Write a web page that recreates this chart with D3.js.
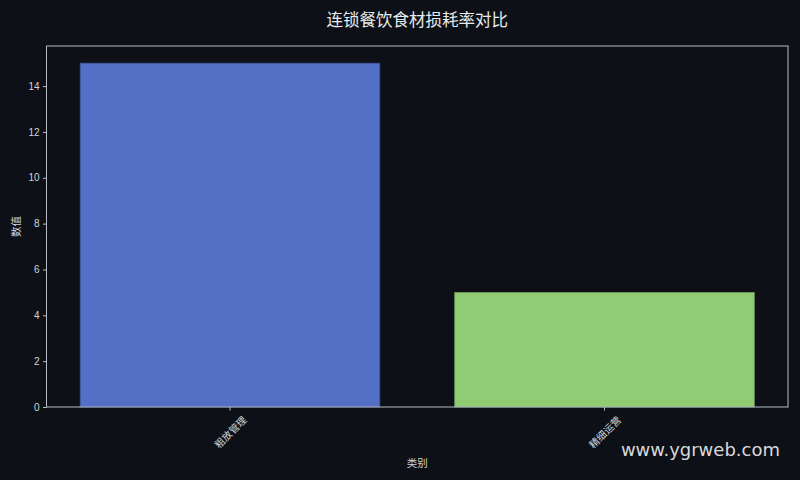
<!DOCTYPE html>
<html>
<head>
<meta charset="utf-8">
<script src="https://cdn.jsdelivr.net/npm/d3@7"></script>
<style>
  html, body { margin: 0; padding: 0; background: #0d1017; }
  svg { display: block; }
</style>
</head>
<body>
<div id="chart"></div>
<script>
// chart data
var categories = ['粗放管理', '精细运营'];
var values = [15, 5];
var barColors = ['#5470c6', '#91cc75'];
var yTicks = [0, 2, 4, 6, 8, 10, 12, 14];

var width = 800, height = 480;
var margin = {top: 46, right: 12, bottom: 73, left: 46.5};
var cjk = '"Noto Sans CJK SC", "Noto Sans", sans-serif';
var num = '"Liberation Sans", Arial, sans-serif';

var svg = d3.select('#chart').append('svg')
    .attr('width', width)
    .attr('height', height);

svg.append('rect')
    .attr('width', width).attr('height', height)
    .attr('fill', '#0d1017');

var x = d3.scaleBand()
    .domain(categories)
    .range([margin.left, width - margin.right])
    .paddingInner(0.2)
    .paddingOuter(0.09);

var y = d3.scaleLinear()
    .domain([0, 15.75])
    .range([height - margin.bottom, margin.top]);

// bars
svg.append('g').attr('class', 'data')
    .selectAll('rect')
    .data(values)
    .enter()
    .append('rect')
    .attr('x', function(d, i) { return x(categories[i]); })
    .attr('y', function(d) { return y(d); })
    .attr('width', x.bandwidth())
    .attr('height', function(d) { return y(0) - y(d); })
    .attr('fill', function(d, i) { return barColors[i]; })
    .attr('stroke', function(d, i) { return d3.color(barColors[i]).darker(0.8); })
    .attr('stroke-width', 0.8);

// frame
svg.append('rect')
    .attr('x', margin.left)
    .attr('y', margin.top)
    .attr('width', width - margin.right - margin.left)
    .attr('height', height - margin.bottom - margin.top)
    .attr('fill', 'none')
    .attr('stroke', '#b8bcc4')
    .attr('stroke-width', 1);

// y axis
var yAxis = d3.axisLeft(y).tickValues(yTicks).tickSize(3.5).tickPadding(3.5);
var gy = svg.append('g')
    .attr('transform', 'translate(' + margin.left + ',0)')
    .call(yAxis);
gy.select('.domain').remove();
gy.selectAll('.tick line').attr('stroke', '#b8bcc4');
gy.selectAll('.tick text')
    .attr('fill', '#d0d4da')
    .style('font-family', num)
    .style('font-size', '10px');

// x axis
var xAxis = d3.axisBottom(x).tickSize(3.5).tickPadding(0);
var gx = svg.append('g')
    .attr('transform', 'translate(0,' + (height - margin.bottom) + ')')
    .call(xAxis);
gx.select('.domain').remove();
gx.selectAll('.tick line').attr('stroke', '#b8bcc4');
gx.selectAll('.tick text')
    .attr('fill', '#d0d4da')
    .attr('dy', null)
    .attr('y', null)
    .style('font-family', cjk)
    .style('font-size', '10px')
    .attr('text-anchor', 'middle')
    .attr('dominant-baseline', 'central')
    .attr('transform', function() {
        // centre of rotated box sits below the tick
        var w = this.getComputedTextLength();
        var half = (w + 10) / Math.SQRT2 / 2;
        return 'translate(0,' + (7 + half) + ')rotate(-45)';
    });

// axis titles
svg.append('text')
    .attr('text-anchor', 'middle')
    .attr('transform', 'translate(15,' + ((margin.top + height - margin.bottom) / 2) + ')rotate(-90)')
    .attr('dominant-baseline', 'central')
    .attr('fill', '#d0d4da')
    .style('font-family', cjk)
    .style('font-size', '10.5px')
    .text('数值');

svg.append('text')
    .attr('text-anchor', 'middle')
    .attr('x', (margin.left + width - margin.right) / 2)
    .attr('y', 462)
    .attr('dominant-baseline', 'central')
    .attr('fill', '#d0d4da')
    .style('font-family', cjk)
    .style('font-size', '10.5px')
    .text('类别');

// title
svg.append('text')
    .attr('text-anchor', 'middle')
    .attr('x', (margin.left + width - margin.right) / 2)
    .attr('y', 18.5)
    .attr('dominant-baseline', 'central')
    .attr('fill', '#e8ebef')
    .style('font-family', cjk)
    .style('font-size', '16.5px')
    .text('连锁餐饮食材损耗率对比');

// watermark
svg.append('text')
    .attr('text-anchor', 'end')
    .attr('x', 780)
    .attr('y', 449.5)
    .attr('dominant-baseline', 'central')
    .attr('fill', '#ffffff')
    .attr('fill-opacity', 0.85)
    .style('font-family', '"DejaVu Sans", sans-serif')
    .style('font-size', '18px')
    .text('www.ygrweb.com');
</script>
</body>
</html>
